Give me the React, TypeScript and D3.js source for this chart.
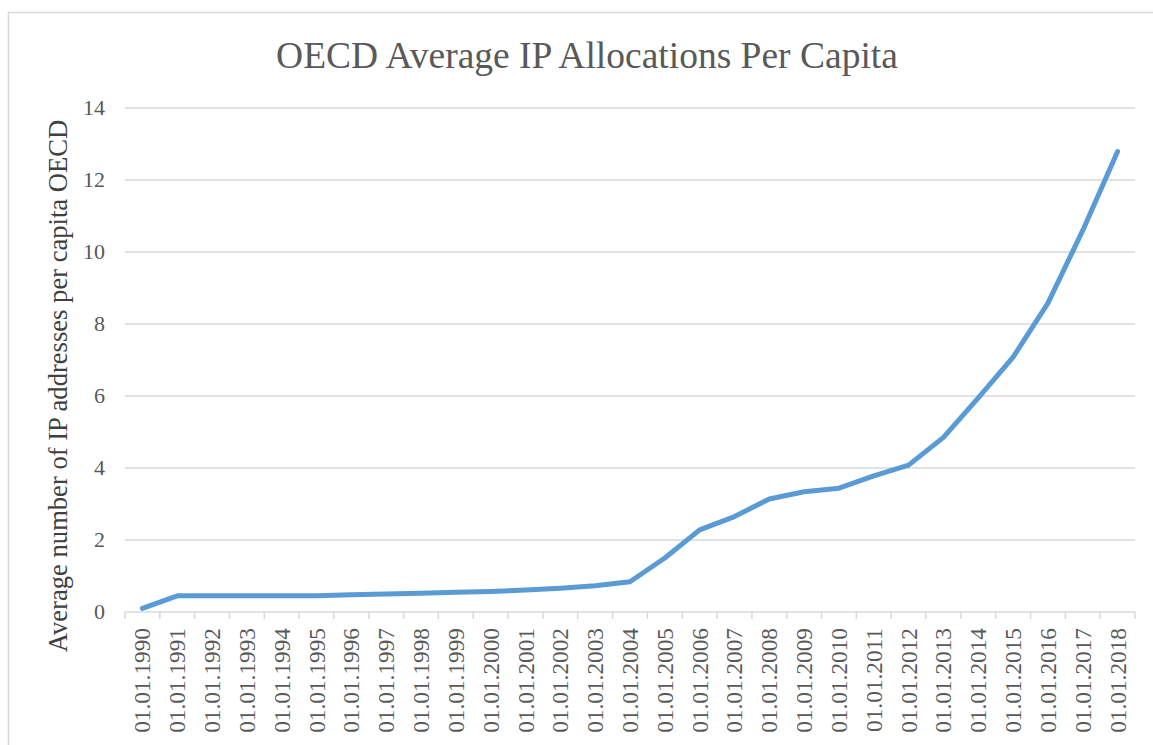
import React, { useRef, useEffect } from 'react';
import * as d3 from 'd3';

const years: string[] = [
    '1990', '1991', '1992', '1993', '1994', '1995', '1996', '1997', '1998', '1999',
    '2000', '2001', '2002', '2003', '2004', '2005', '2006', '2007', '2008', '2009',
    '2010', '2011', '2012', '2013', '2014', '2015', '2016', '2017', '2018',
];
const categories: string[] = years.map((y) => `01.01.${y}`);
const values: number[] = [
    0.1, 0.45, 0.45, 0.45, 0.45, 0.45, 0.48, 0.5, 0.52, 0.55,
    0.57, 0.61, 0.66, 0.73, 0.84, 1.5, 2.28, 2.65, 3.14, 3.34,
    3.44, 3.78, 4.08, 4.85, 5.95, 7.08, 8.58, 10.6, 12.79,
];
const yTicks: number[] = [0, 2, 4, 6, 8, 10, 12, 14];

const title = 'OECD Average IP Allocations Per Capita';
const yTitle = 'Average number of IP addresses per capita OECD';

const W = 1153;
const H = 745;
const FONT = '"Liberation Serif", "Times New Roman", serif';
const TEXT = '#595959';
const GRID = '#d9d9d9';

const LineChart: React.FC = () => {
    const ref = useRef<SVGSVGElement>(null);

    useEffect(() => {
        if (!ref.current) return;
        const svg = d3.select(ref.current);
        svg.selectAll('*').remove();

        const left = 125, right = 1135, top = 108, bottom = 612;

        // chart frame
        svg.append('rect')
            .attr('x', 8.5).attr('y', 12.5)
            .attr('width', W + 20).attr('height', H + 20)
            .attr('fill', '#fff').attr('stroke', GRID).attr('stroke-width', 1.5);

        const x = d3.scaleBand<string>().domain(categories).range([left, right]);
        const y = d3.scaleLinear().domain([0, 14]).range([bottom, top]);

        // gridlines
        svg.append('g').selectAll('line')
            .data(yTicks.filter((t) => t > 0))
            .enter().append('line')
            .attr('x1', left).attr('x2', right)
            .attr('y1', (d) => y(d)).attr('y2', (d) => y(d))
            .attr('stroke', GRID).attr('stroke-width', 1.5);

        // y tick labels
        svg.append('g').selectAll('text')
            .data(yTicks)
            .enter().append('text')
            .attr('x', 105).attr('y', (d) => y(d) + 7)
            .attr('text-anchor', 'end')
            .attr('font-family', FONT).attr('font-size', 22).attr('fill', TEXT)
            .text((d) => d);

        // x axis line and ticks
        svg.append('line')
            .attr('x1', left).attr('x2', right)
            .attr('y1', bottom).attr('y2', bottom)
            .attr('stroke', GRID).attr('stroke-width', 1.5);
        const bounds = [...categories.map((c) => x(c)!), right];
        svg.append('g').selectAll('line')
            .data(bounds)
            .enter().append('line')
            .attr('x1', (d) => d).attr('x2', (d) => d)
            .attr('y1', bottom).attr('y2', bottom + 7)
            .attr('stroke', GRID).attr('stroke-width', 1.5);

        // x tick labels
        svg.append('g').selectAll('text')
            .data(categories)
            .enter().append('text')
            .attr('transform', (d) => `translate(${x(d)! + x.bandwidth() / 2 + 8},${bottom + 16}) rotate(-90)`)
            .attr('text-anchor', 'end')
            .attr('font-family', FONT).attr('font-size', 23.3).attr('fill', TEXT)
            .text((d) => d);

        // line
        const line = d3.line<number>()
            .x((_, i) => x(categories[i])! + x.bandwidth() / 2)
            .y((d) => y(d));
        svg.append('path')
            .datum(values)
            .attr('d', line)
            .attr('fill', 'none')
            .attr('stroke', '#5b9bd5')
            .attr('stroke-width', 5)
            .attr('stroke-linecap', 'round')
            .attr('stroke-linejoin', 'round');

        // title
        svg.append('text')
            .attr('x', 587).attr('y', 68)
            .attr('text-anchor', 'middle')
            .attr('font-family', FONT).attr('font-size', 37.5).attr('fill', TEXT)
            .text(title);

        // y axis title
        svg.append('text')
            .attr('transform', `translate(67,386) rotate(-90)`)
            .attr('text-anchor', 'middle')
            .attr('font-family', FONT).attr('font-size', 26.6).attr('fill', '#404040')
            .text(yTitle);
    }, []);

    return (
        <svg ref={ref} width={W} height={H}
            style={{ position: 'absolute', left: 0, top: 0, display: 'block', background: '#fff' }} />
    );
};

export default function App() {
    return <LineChart />;
}
